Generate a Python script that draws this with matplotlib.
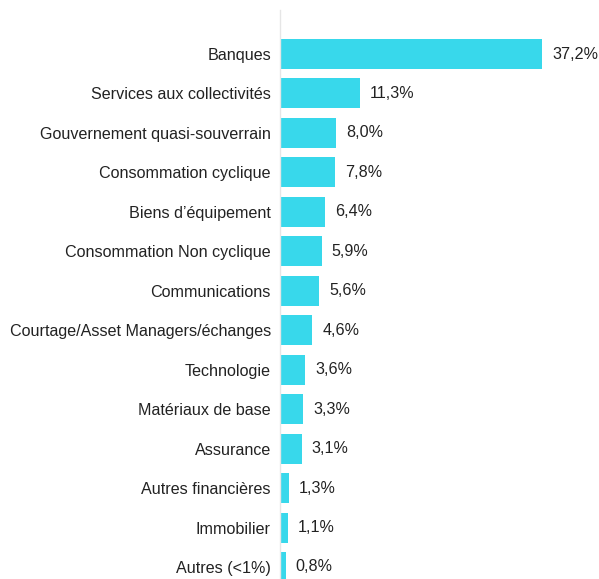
import matplotlib.pyplot as plt

categories = [
    "Banques",
    "Services aux collectivités",
    "Gouvernement quasi-souverrain",
    "Consommation cyclique",
    "Biens d\u2019équipement",
    "Consommation Non cyclique",
    "Communications",
    "Courtage/Asset Managers/échanges",
    "Technologie",
    "Matériaux de base",
    "Assurance",
    "Autres financières",
    "Immobilier",
    "Autres (<1%)",
]
values = [37.2, 11.3, 8.0, 7.8, 6.4, 5.9, 5.6, 4.6, 3.6, 3.3, 3.1, 1.3, 1.1, 0.8]

plt.rcParams["font.family"] = ["Liberation Sans", "DejaVu Sans"]

W, H = 599, 579
fig = plt.figure(figsize=(W / 100, H / 100), dpi=100)
# axes placed in pixel terms: left edge at x=280, top at y=10
ax = fig.add_axes([280 / W, 0, (W - 280) / W, (H - 10) / H])

pos = list(range(len(values)))
ax.barh(pos, values, height=0.76, color="#38D8EB")

px_per_unit = 262 / 37.2
ax.set_xlim(0, (W - 280) / px_per_unit)
spacing = 39.46
ax.set_ylim((H - 54) / spacing, -(54 - 10) / spacing)

fs = 11.6
for p, v in zip(pos, values):
    ax.text(v + 10 / px_per_unit, p, f"{v:.1f}%".replace(".", ","),
            va="center", ha="left", fontsize=fs, color="#222222")

ax.set_yticks(pos)
ax.set_yticklabels(categories, fontsize=fs, color="#222222")
ax.tick_params(axis="y", length=0, pad=6.5)
ax.set_xticks([])

for side in ["top", "right", "bottom"]:
    ax.spines[side].set_visible(False)
ax.spines["left"].set_color("#e6e6e6")
ax.spines["left"].set_linewidth(1)

fig.savefig("out.png", dpi=100)
